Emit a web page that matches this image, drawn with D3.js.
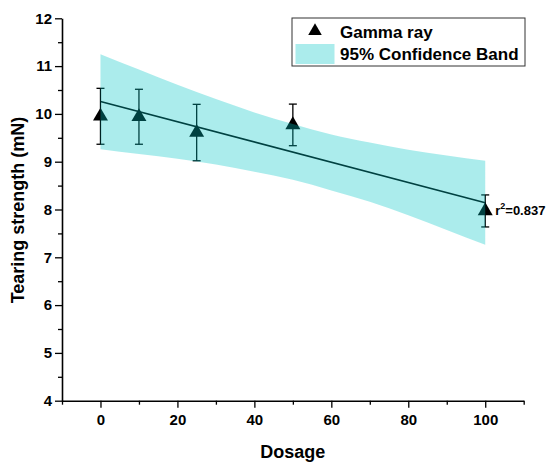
<!DOCTYPE html>
<html>
<head>
<meta charset="utf-8">
<script src="https://cdn.jsdelivr.net/npm/d3@7"></script>
<style>
  body { margin: 0; background: #fff; }
  svg text { font-family: Arial, "Liberation Sans", sans-serif; font-weight: bold; }
</style>
</head>
<body>
<svg id="chart"></svg>
<script>
// values
const dosage = [0, 10, 25, 50, 100];
const strength = [9.95, 9.94, 9.61, 9.77, 7.97];
const strengthErr = [0.585, 0.575, 0.59, 0.435, 0.335];

// fitted line end points
const fitX = [0, 100];
const fitY = [10.26, 8.14];

// 95% confidence band edges
const bandX = [0, 10, 20, 30, 40, 50, 60, 70, 80, 90, 100];
const bandUpper = [11.25, 10.93, 10.61, 10.31, 10.03, 9.79, 9.57, 9.40, 9.25, 9.13, 9.02];
const bandLower = [9.26, 9.16, 9.06, 8.94, 8.79, 8.62, 8.40, 8.16, 7.88, 7.57, 7.26];

const xTicks = [0, 20, 40, 60, 80, 100];
const xMinorTicks = [-10, 10, 30, 50, 70, 90, 110];
const yTicks = [4, 5, 6, 7, 8, 9, 10, 11, 12];
const yMinorTicks = [4.5, 5.5, 6.5, 7.5, 8.5, 9.5, 10.5, 11.5];
const rSquared = '0.837';

class FitChart {
    constructor(_config) {
        this.config = {
            parentElement: _config.parentElement,
            containerWidth: 546,
            containerHeight: 465,
            margin: { top: 18.3, right: 22.3, bottom: 64.3, left: 62 }
        };
        this.initVis();
    }

    initVis() {
        let vis = this;
        vis.width = vis.config.containerWidth - vis.config.margin.left - vis.config.margin.right;
        vis.height = vis.config.containerHeight - vis.config.margin.top - vis.config.margin.bottom;

        vis.svg = d3.select(vis.config.parentElement)
            .attr('width', vis.config.containerWidth)
            .attr('height', vis.config.containerHeight);

        vis.chart = vis.svg.append('g')
            .attr('transform', `translate(${vis.config.margin.left},${vis.config.margin.top})`);

        vis.xScale = d3.scaleLinear().domain([-10, 110]).range([0, vis.width]);
        vis.yScale = d3.scaleLinear().domain([4, 12]).range([vis.height, 0]);

        vis.renderVis();
    }

    renderVis() {
        let vis = this;
        const x = vis.xScale, y = vis.yScale;
        const bandFill = 'rgb(0,196,196)';

        // minor ticks first, then the real axes
        vis.chart.append('g')
            .attr('transform', `translate(0,${vis.height})`)
            .call(d3.axisBottom(x).tickValues(xMinorTicks).tickSize(4).tickFormat(''))
            .call(g => g.select('.domain').remove());
        vis.chart.append('g')
            .call(d3.axisLeft(y).tickValues(yMinorTicks).tickSize(4).tickFormat(''))
            .call(g => g.select('.domain').remove());

        vis.chart.append('g')
            .attr('transform', `translate(0,${vis.height})`)
            .call(d3.axisBottom(x).tickValues(xTicks).tickSize(7).tickSizeOuter(0).tickPadding(7));
        vis.chart.append('g')
            .call(d3.axisLeft(y).tickValues(yTicks).tickSize(7).tickSizeOuter(0).tickPadding(3));

        vis.chart.selectAll('.tick line').attr('stroke', '#000').attr('stroke-width', 1.3);
        vis.chart.selectAll('.domain').attr('stroke', '#000').attr('stroke-width', 1.6);
        vis.chart.selectAll('.tick text')
            .attr('font-size', 15)
            .attr('font-weight', 'bold')
            .attr('font-family', 'Arial, "Liberation Sans", sans-serif')
            .attr('fill', '#000');

        // axis titles
        vis.svg.append('text')
            .attr('x', vis.config.margin.left + vis.width / 2)
            .attr('y', 458)
            .attr('text-anchor', 'middle')
            .attr('font-size', 18)
            .text('Dosage');
        vis.svg.append('text')
            .attr('transform', 'rotate(-90)')
            .attr('x', -210)
            .attr('y', 24)
            .attr('text-anchor', 'middle')
            .attr('font-size', 18)
            .text('Tearing strength (mN)');

        // error bars
        const pts = dosage.map((d, i) => ({ x: d, y: strength[i], e: strengthErr[i] }));
        const eb = vis.chart.append('g').attr('stroke', '#000').attr('stroke-width', 1.3);
        pts.forEach(p => {
            const cx = x(p.x);
            eb.append('line').attr('x1', cx).attr('x2', cx)
                .attr('y1', y(p.y + p.e)).attr('y2', y(p.y - p.e));
            eb.append('line').attr('x1', cx - 4).attr('x2', cx + 4)
                .attr('y1', y(p.y + p.e)).attr('y2', y(p.y + p.e));
            eb.append('line').attr('x1', cx - 4).attr('x2', cx + 4)
                .attr('y1', y(p.y - p.e)).attr('y2', y(p.y - p.e));
        });

        // triangles
        vis.chart.selectAll('.pt')
            .data(pts)
            .enter()
            .append('path')
                .attr('class', 'pt')
                .attr('d', d3.symbol().type(d3.symbolTriangle).size(97))
                .attr('transform', d => `translate(${x(d.x)},${y(d.y)})`)
                .attr('fill', '#000');

        // fit line
        vis.chart.append('line')
            .attr('x1', x(fitX[0])).attr('y1', y(fitY[0]))
            .attr('x2', x(fitX[1])).attr('y2', y(fitY[1]))
            .attr('stroke', '#000')
            .attr('stroke-width', 1.6);

        // band goes on top, see-through like the original
        const band = bandX.map((d, i) => ({ x: d, hi: bandUpper[i], lo: bandLower[i] }));
        const area = d3.area()
            .x(d => x(d.x))
            .y0(d => y(d.lo))
            .y1(d => y(d.hi))
            .curve(d3.curveMonotoneX);
        vis.chart.append('path')
            .datum(band)
            .attr('d', area)
            .attr('fill', bandFill)
            .attr('fill-opacity', 0.33);

        // r^2 label
        const r2 = vis.chart.append('text')
            .attr('x', x(100) + 10)
            .attr('y', y(strength[4]) + 4)
            .attr('font-size', 13);
        r2.append('tspan').text('r');
        r2.append('tspan').attr('font-size', 9).attr('dy', -6).text('2');
        r2.append('tspan').attr('dy', 6).text('=' + rSquared);

        // legend
        const lg = vis.svg.append('g');
        lg.append('rect')
            .attr('x', 292).attr('y', 18).attr('width', 233).attr('height', 48)
            .attr('fill', '#fff').attr('stroke', '#333').attr('stroke-width', 1);
        lg.append('path')
            .attr('d', d3.symbol().type(d3.symbolTriangle).size(80))
            .attr('transform', 'translate(315,31)')
            .attr('fill', '#000');
        lg.append('text').attr('x', 340).attr('y', 37.5).attr('font-size', 17).text('Gamma ray');
        lg.append('rect')
            .attr('x', 295.5).attr('y', 44).attr('width', 39).attr('height', 20)
            .attr('fill', bandFill).attr('fill-opacity', 0.33);
        lg.append('text').attr('x', 340).attr('y', 60).attr('font-size', 17).text('95% Confidence Band');
    }
}

new FitChart({ parentElement: '#chart' });
</script>
</body>
</html>
